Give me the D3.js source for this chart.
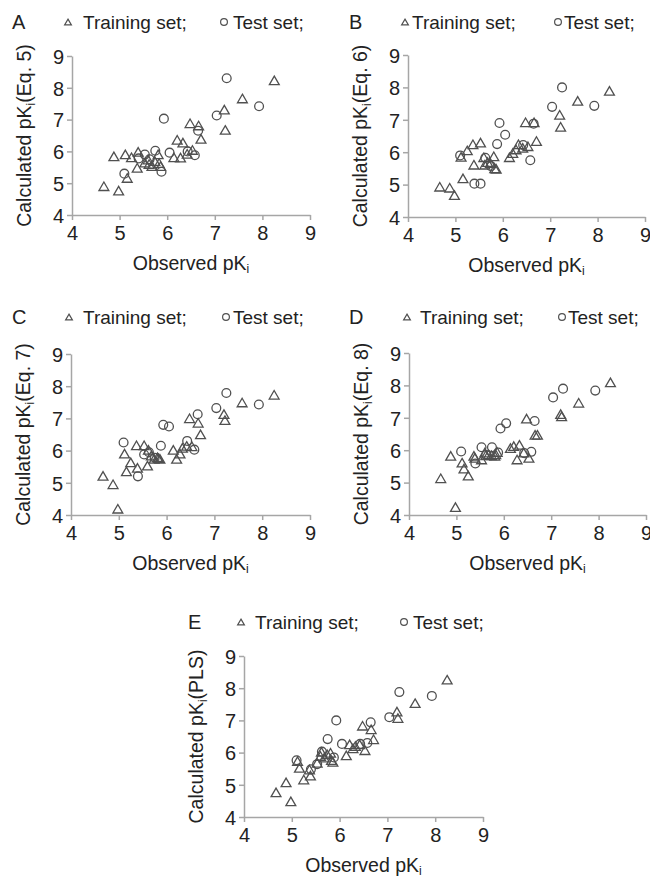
<!DOCTYPE html>
<html>
<head>
<meta charset="utf-8">
<script src="https://cdn.jsdelivr.net/npm/d3@7"></script>
<style>
  html, body { margin: 0; padding: 0; background: #fff; }
  svg { display: block; font-family: "Liberation Sans", Arial, sans-serif; }
</style>
</head>
<body>
<svg id="chart" width="650" height="878"></svg>
<script>
// Observed pKi values (shared by all five models)
const obsTrain = [4.67, 4.88, 4.98, 5.12, 5.16, 5.25, 5.37, 5.39, 5.53, 5.60, 5.62, 5.68, 5.74, 5.81, 5.83,
                  5.86, 6.14, 6.21, 6.28, 6.33, 6.42, 6.48, 6.53, 6.66, 6.71, 7.20, 7.22, 7.58, 8.25];
const obsTest = [5.10, 5.40, 5.53, 5.63, 5.75, 5.88, 5.93, 6.05, 6.43, 6.58, 6.65, 7.04, 7.25, 7.93];

// Calculated pKi, one array per model
const calcTrainA = [4.86, 5.80, 4.72, 5.86, 5.12, 5.77, 5.44, 5.94, 5.60, 5.70, 5.56, 5.49, 5.65, 5.86, 5.59,
                    5.49, 5.77, 6.32, 5.76, 6.23, 5.88, 6.84, 6.00, 6.77, 6.35, 7.27, 6.63, 7.62, 8.19];
const calcTestA = [5.30, 5.78, 5.90, 5.75, 6.02, 5.36, 7.03, 5.96, 6.00, 5.88, 6.65, 7.13, 8.30, 7.42];

const calcTrainB = [4.89, 4.86, 4.63, 5.81, 5.15, 6.01, 6.20, 5.57, 6.25, 5.80, 5.57, 5.65, 5.62, 5.83, 5.46,
                    5.44, 5.80, 5.93, 6.04, 6.20, 6.09, 6.88, 6.14, 6.88, 6.30, 7.11, 6.74, 7.54, 7.85];
const calcTestB = [5.90, 5.03, 5.03, 5.83, 5.57, 6.25, 6.90, 6.54, 6.22, 5.75, 6.88, 7.40, 8.00, 7.43];

const calcTrainC = [5.17, 4.91, 4.15, 5.86, 5.31, 5.59, 6.12, 5.42, 6.12, 5.49, 5.98, 5.80, 5.70, 5.75, 5.72,
                    5.70, 5.98, 5.70, 5.86, 6.04, 6.10, 6.96, 6.09, 6.82, 6.46, 7.09, 6.90, 7.45, 7.69];
const calcTestC = [6.25, 5.20, 5.88, 5.95, 5.78, 6.15, 6.80, 6.75, 6.30, 6.03, 7.13, 7.32, 7.79, 7.43];

const calcTrainD = [5.09, 5.78, 4.20, 5.57, 5.39, 5.17, 5.78, 5.72, 5.67, 5.88, 5.80, 5.83, 5.80, 5.78, 5.83,
                    5.90, 6.02, 6.08, 5.67, 6.12, 5.88, 6.93, 5.72, 6.43, 6.43, 7.07, 7.00, 7.42, 8.05];
const calcTestD = [5.96, 5.59, 6.09, 5.85, 6.09, 5.93, 6.67, 6.83, 5.91, 5.95, 6.90, 7.63, 7.90, 7.84];

const calcTrainE = [4.72, 5.03, 4.44, 5.69, 5.48, 5.12, 5.43, 5.24, 5.64, 5.85, 5.98, 5.80, 5.90, 5.95, 5.72,
                    5.67, 5.87, 6.21, 6.09, 6.16, 6.21, 6.79, 6.03, 6.68, 6.37, 7.23, 7.03, 7.49, 8.22];
const calcTestE = [5.76, 5.48, 5.64, 6.03, 6.42, 5.85, 7.00, 6.27, 6.27, 6.30, 6.94, 7.10, 7.88, 7.76];

const tickValues = [4, 5, 6, 7, 8, 9];
const panelLetters = ["A", "B", "C", "D", "E"];
const yLabels = ["(Eq. 5)", "(Eq. 6)", "(Eq. 7)", "(Eq. 8)", "(PLS)"];
const legendLabels = ["Training set;", "Test set;"];

// placement of each panel (pixels)
const panels = [
  { x0: 72,  x1: 310, yTop: 56,  yBot: 215, legY: 22,  letX: 12,  triX: 68,  triT: 83,  cirX: 224, cirT: 233, train: calcTrainA, test: calcTestA },
  { x0: 408, x1: 645, yTop: 55,  yBot: 217, legY: 22,  letX: 349, triX: 405, triT: 412, cirX: 558, cirT: 564, train: calcTrainB, test: calcTestB },
  { x0: 71,  x1: 310, yTop: 354, yBot: 515, legY: 317, letX: 12,  triX: 69,  triT: 83,  cirX: 226, cirT: 233, train: calcTrainC, test: calcTestC },
  { x0: 409, x1: 646, yTop: 353, yBot: 515, legY: 317, letX: 349, triX: 407, triT: 420, cirX: 562, cirT: 568, train: calcTrainD, test: calcTestD },
  { x0: 244, x1: 483, yTop: 656, yBot: 817, legY: 622, letX: 188, triX: 241, triT: 255, cirX: 404, cirT: 413, train: calcTrainE, test: calcTestE }
];

const svg = d3.select("#chart");
const axisColor = "#a6a6a6";
const markColor = "#505050";
const textColor = "#222";

panels.forEach(function (p, i) {
  let xscale = d3.scaleLinear().domain([4, 9]).range([p.x0, p.x1]);
  let yscale = d3.scaleLinear().domain([4, 9]).range([p.yBot, p.yTop]);

  let g = svg.append("g");

  // axes
  let xAxis = g.append("g")
    .attr("transform", "translate(0," + p.yBot + ")")
    .call(d3.axisBottom(xscale).tickValues(tickValues).tickFormat(d3.format("d"))
      .tickSize(5).tickSizeOuter(0).tickPadding(6));
  let yAxis = g.append("g")
    .attr("transform", "translate(" + p.x0 + ",0)")
    .call(d3.axisLeft(yscale).tickValues(tickValues).tickFormat(d3.format("d"))
      .tickSize(5).tickSizeOuter(0).tickPadding(3));

  g.selectAll(".domain, .tick line")
    .attr("stroke", axisColor)
    .attr("stroke-width", 1.5);
  g.selectAll(".tick text")
    .attr("fill", textColor)
    .style("font-size", "20px");
  yAxis.selectAll(".tick text").attr("dy", "0.36em");

  // training set: triangles
  let tri = d3.symbol().type(d3.symbolTriangle).size(42);
  g.selectAll("path.train")
    .data(obsTrain.map(function (d, k) { return [d, p.train[k]]; }))
    .enter()
    .append("path")
    .attr("class", "train")
    .attr("d", tri)
    .attr("transform", function (d) {
      return "translate(" + xscale(d[0]) + "," + yscale(d[1]) + ")";
    })
    .attr("fill", "none")
    .attr("stroke", markColor)
    .attr("stroke-width", 1.3);

  // test set: circles
  g.selectAll("circle.test")
    .data(obsTest.map(function (d, k) { return [d, p.test[k]]; }))
    .enter()
    .append("circle")
    .attr("class", "test")
    .attr("cx", function (d) { return xscale(d[0]); })
    .attr("cy", function (d) { return yscale(d[1]); })
    .attr("r", 4.4)
    .attr("fill", "none")
    .attr("stroke", markColor)
    .attr("stroke-width", 1.3);

  // axis titles
  let xt = g.append("text")
    .attr("x", (p.x0 + p.x1) / 2)
    .attr("y", p.yBot + 55)
    .attr("text-anchor", "middle")
    .attr("fill", textColor)
    .style("font-size", "19.5px")
    .text("Observed pK");
  xt.append("tspan").attr("dy", 3).style("font-size", "12px").text("i");

  let yt = g.append("text")
    .attr("transform", "translate(" + (p.x0 - 41) + "," + ((p.yTop + p.yBot) / 2) + ") rotate(-90)")
    .attr("text-anchor", "middle")
    .attr("fill", textColor)
    .style("font-size", "19.5px")
    .text("Calculated pK");
  yt.append("tspan").attr("dy", 4).style("font-size", "12px").text("i");
  yt.append("tspan").attr("dy", -4).text(yLabels[i]);

  // panel letter and legend
  g.append("text")
    .attr("x", p.letX).attr("y", p.legY + 7)
    .attr("fill", textColor)
    .style("font-size", "20px")
    .text(panelLetters[i]);

  g.append("path")
    .attr("d", d3.symbol().type(d3.symbolTriangle).size(20))
    .attr("transform", "translate(" + p.triX + "," + (p.legY + 1) + ")")
    .attr("fill", "none").attr("stroke", markColor).attr("stroke-width", 1.2);
  g.append("text")
    .attr("x", p.triT).attr("y", p.legY + 7)
    .attr("fill", textColor)
    .style("font-size", "19px")
    .text(legendLabels[0]);

  g.append("circle")
    .attr("cx", p.cirX).attr("cy", p.legY)
    .attr("r", 3.4)
    .attr("fill", "none").attr("stroke", markColor).attr("stroke-width", 1.2);
  g.append("text")
    .attr("x", p.cirT).attr("y", p.legY + 7)
    .attr("fill", textColor)
    .style("font-size", "19px")
    .text(legendLabels[1]);
});
</script>
</body>
</html>
